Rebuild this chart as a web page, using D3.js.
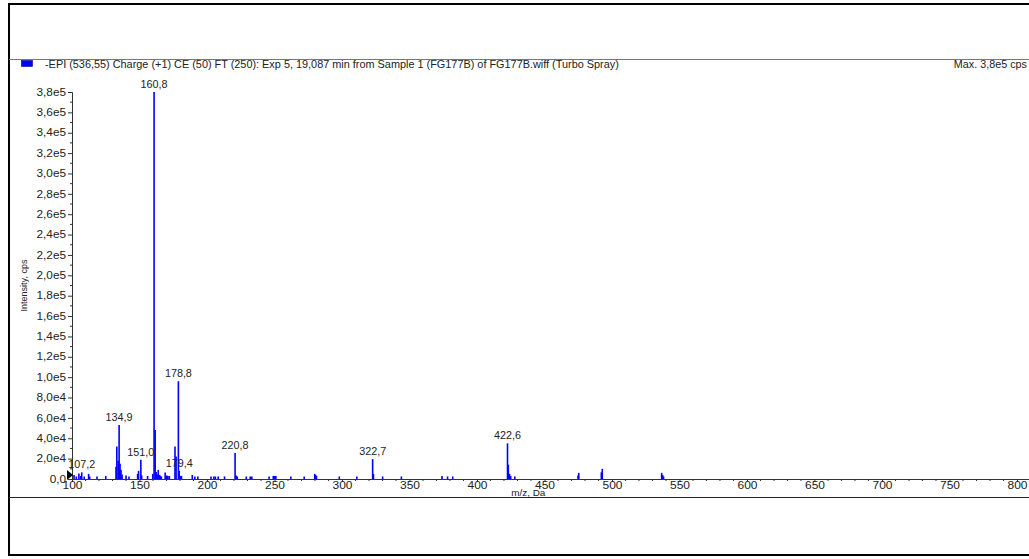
<!DOCTYPE html>
<html>
<head>
<meta charset="utf-8">
<script src="https://cdn.jsdelivr.net/npm/d3@7"></script>
<style>
  body { margin: 0; background: #fff; }
  svg { display: block; font-family: "Liberation Sans", Arial, sans-serif; }
</style>
</head>
<body>
<svg class="chart"></svg>
<script>
var width = 1029, height = 559;

var title = "-EPI (536,55) Charge (+1) CE (50) FT (250): Exp 5, 19,087 min from Sample 1 (FG177B) of FG177B.wiff (Turbo Spray)";
var maxText = "Max. 3,8e5 cps";

// peaks: m/z and intensity (cps)
var mz = [101.5, 103.2, 105.1, 106.4, 107.2, 109.0, 112.3, 113.1, 118.5, 125.0,
          132.6, 133.2, 134.2, 134.9, 135.6, 136.3, 137.1, 140.0, 142.2, 148.6,
          149.3, 151.0, 151.6, 156.0, 159.8, 160.8, 161.6, 162.4, 163.1, 163.9,
          164.6, 165.3, 166.2, 169.0, 170.2, 171.0, 172.1, 176.3, 177.1, 178.8,
          179.4, 180.3, 181.1, 189.1, 191.0, 193.2, 203.0, 205.1, 206.2, 208.3,
          213.0, 220.8, 221.6, 222.4, 229.1, 232.0, 233.2, 246.0, 249.1, 250.2,
          251.0, 262.1, 272.0, 279.8, 280.5, 281.1, 298.0, 311.0, 322.7, 323.3,
          330.1, 344.0, 374.1, 378.2, 382.0, 422.6, 423.2, 424.1, 425.0, 428.0,
          474.8, 475.4, 492.1, 492.8, 536.8, 537.5, 538.2];
var intensity = [4000, 2500, 5500, 3000, 6500, 2500, 5000, 2500, 2500, 3000,
                 12000, 32000, 18000, 53000, 15000, 9000, 4500, 3500, 2500, 5000,
                 8000, 19000, 3500, 3000, 5000, 380000, 48000, 7000, 4500, 9000,
                 4000, 3500, 2500, 6500, 3500, 3000, 3000, 32000, 22000, 96000,
                 8000, 3000, 3000, 4000, 2500, 2500, 2500, 2500, 2500, 2500,
                 2500, 25500, 3500, 2500, 2500, 2500, 2500, 2500, 3000, 3000,
                 3000, 2500, 2500, 5000, 4000, 3000, 2500, 2500, 19500, 5000,
                 2500, 2500, 3000, 2500, 2500, 35000, 14000, 5000, 3000, 2500,
                 3500, 6000, 6500, 10000, 6000, 4000, 2500];

var labelMz = [107.2, 134.9, 151.0, 160.8, 178.8, 179.4, 220.8, 322.7, 422.6];
var labelText = ["107,2", "134,9", "151,0", "160,8", "178,8", "179,4", "220,8", "322,7", "422,6"];

var xTickValues = [100, 150, 200, 250, 300, 350, 400, 450, 500, 550, 600, 650, 700, 750, 800];
var yTickValues = [0, 20000, 40000, 60000, 80000, 100000, 120000, 140000, 160000, 180000,
                   200000, 220000, 240000, 260000, 280000, 300000, 320000, 340000, 360000, 380000];
var yTickLabels = ["0,0", "2,0e4", "4,0e4", "6,0e4", "8,0e4", "1,0e5", "1,2e5", "1,4e5", "1,6e5", "1,8e5",
                   "2,0e5", "2,2e5", "2,4e5", "2,6e5", "2,8e5", "3,0e5", "3,2e5", "3,4e5", "3,6e5", "3,8e5"];

var chart = d3.select(".chart")
    .attr("width", width)
    .attr("height", height);

var x = d3.scaleLinear()
    .domain([100, 808.9])
    .range([72, 1029]);

var y = d3.scaleLinear()
    .domain([0, 380000])
    .range([479, 92]);

// text in the reference is a bit wider than tall
function wideText(g, px, py, sx) {
  return g.append("text")
      .attr("transform", "translate(" + px + "," + py + ") scale(" + sx + ",1)");
}

// frame
chart.append("line").attr("x1", 9).attr("x2", 9).attr("y1", 3).attr("y2", 556)
    .attr("stroke", "#000").attr("stroke-width", 2);
chart.append("line").attr("x1", 8).attr("x2", width).attr("y1", 4).attr("y2", 4)
    .attr("stroke", "#000").attr("stroke-width", 2);
chart.append("line").attr("x1", 8).attr("x2", width).attr("y1", 555).attr("y2", 555)
    .attr("stroke", "#000").attr("stroke-width", 2);
chart.append("line").attr("x1", 9).attr("x2", width).attr("y1", 59.5).attr("y2", 59.5)
    .attr("stroke", "#777").attr("stroke-width", 1);
chart.append("line").attr("x1", 9).attr("x2", width).attr("y1", 497.5).attr("y2", 497.5)
    .attr("stroke", "#222").attr("stroke-width", 1);

// header
chart.append("rect").attr("x", 21.5).attr("y", 60.5).attr("width", 11).attr("height", 6)
    .attr("fill", "#0000ff").attr("stroke", "#000080").attr("stroke-width", 0.6);
wideText(chart, 45, 68, 1.09)
    .style("font-size", "10px").attr("fill", "#222")
    .text(title);
wideText(chart, 1027, 68, 1.08)
    .style("font-size", "10px").attr("fill", "#222")
    .style("text-anchor", "end")
    .text(maxText);

// peaks
chart.append("g").selectAll("line")
    .data(mz)
  .enter().append("line")
    .attr("x1", function(d) { return x(d); })
    .attr("x2", function(d) { return x(d); })
    .attr("y1", y(0))
    .attr("y2", function(d, i) { return y(intensity[i]); })
    .attr("stroke", "#0000ff")
    .attr("stroke-width", 1.6);

// peak labels
var labels = chart.append("g");
labelMz.forEach(function(d, i) {
  wideText(labels, x(d), y(intensity[mz.indexOf(d)]) - 4, 1.08)
      .style("text-anchor", "middle")
      .style("font-size", "10px")
      .attr("fill", "#222")
      .text(labelText[i]);
});

// y axis
var yAxis = d3.axisLeft(y)
    .tickValues(yTickValues)
    .tickSize(4)
    .tickPadding(2)
    .tickFormat(function(d, i) { return yTickLabels[i]; });
var gy = chart.append("g").attr("transform", "translate(72,0)").call(yAxis);
gy.select(".domain").attr("stroke", "#333");
gy.selectAll(".tick line").attr("stroke", "#333");
gy.selectAll("text")
    .style("font-size", "10px").attr("fill", "#222").attr("font-family", null)
    .attr("x", -6 / 1.18)
    .attr("transform", "scale(1.18,1)");
// minor y ticks
gy.selectAll(".minor")
    .data(yTickValues.slice(0, -1))
  .enter().append("line")
    .attr("x1", -2).attr("x2", 0)
    .attr("y1", function(d) { return y(d + 10000); })
    .attr("y2", function(d) { return y(d + 10000); })
    .attr("stroke", "#333");

// x axis
var xAxis = d3.axisBottom(x)
    .tickValues(xTickValues)
    .tickSize(3)
    .tickPadding(0)
    .tickFormat(d3.format("d"));
var gx = chart.append("g").attr("transform", "translate(0,479)").call(xAxis);
gx.select(".domain").attr("stroke", "#333");
gx.selectAll(".tick line").attr("stroke", "#333");
gx.selectAll("text")
    .style("font-size", "10px").attr("fill", "#222").attr("font-family", null)
    .attr("transform", "scale(1.2,1)");
gx.selectAll(".minor")
    .data(d3.range(110, 808, 10).filter(function(d) { return d % 50 != 0; }))
  .enter().append("line")
    .attr("x1", function(d) { return x(d); })
    .attr("x2", function(d) { return x(d); })
    .attr("y1", 0).attr("y2", 2)
    .attr("stroke", "#333");

// start marker
chart.append("path")
    .attr("d", "M" + (x(100) - 5) + "," + (y(0) - 9) + "l6,5l-6,5z")
    .attr("fill", "#000");

// axis titles
wideText(chart, x(438), 496, 1.1)
    .style("text-anchor", "middle").style("font-size", "9px").attr("fill", "#222")
    .text("m/z, Da");
chart.append("text")
    .attr("transform", "translate(27," + y(190000) + ") rotate(-90)")
    .style("text-anchor", "middle").style("font-size", "9px").attr("fill", "#222")
    .text("Intensity, cps");
</script>
</body>
</html>
